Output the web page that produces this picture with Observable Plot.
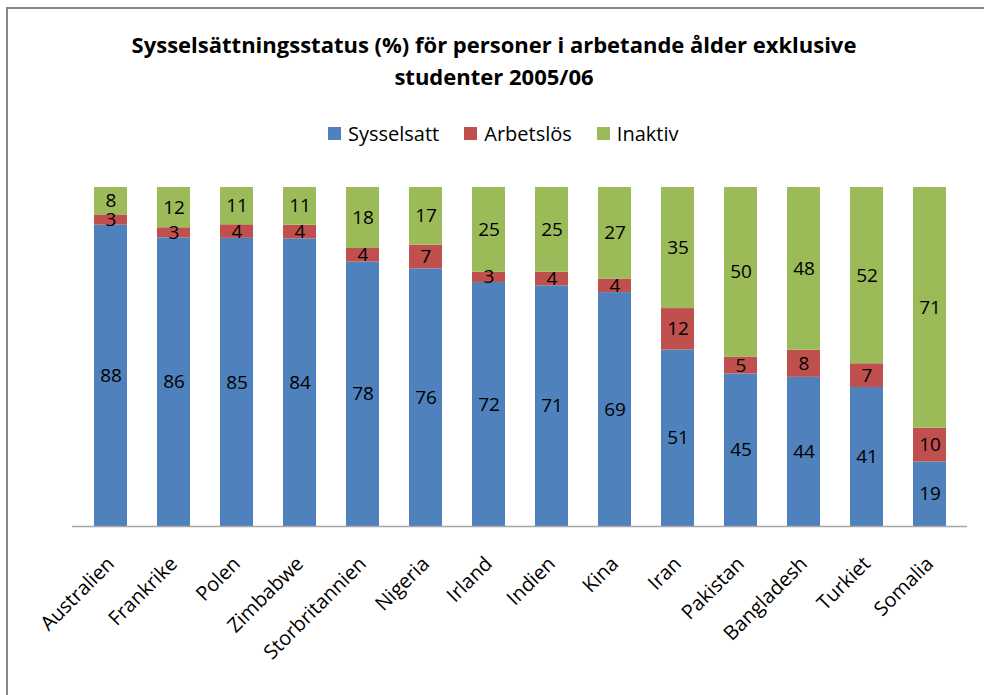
<!DOCTYPE html>
<html>
<head>
<meta charset="utf-8">
<script src="https://cdn.jsdelivr.net/npm/d3@7"></script>
<script src="https://cdn.jsdelivr.net/npm/@observablehq/plot@0.6"></script>
<style>
  html, body { margin: 0; padding: 0; background: #fff; }
  body { width: 984px; height: 695px; position: relative; overflow: hidden; font-family: "Open Sans", Lato, sans-serif; }
  #frame { position: absolute; left: 6px; top: 7px; width: 990px; height: 700px; border-left: 2px solid #878787; border-top: 2px solid #878787; }
  #title { position: absolute; left: 2px; width: 984px; top: 28px; text-align: center; font-weight: bold; font-size: 22px; line-height: 32px; color: #000; }
  #legend { position: absolute; left: 328px; top: 120px; font-size: 20px; color: #000; white-space: nowrap; }
  #legend span.item { display: inline-block; margin-right: 25px; }
  #legend span.sw { display: inline-block; width: 13px; height: 13px; margin-right: 7px; vertical-align: 1px; }
  #chart { position: absolute; left: 0; top: 170px; }
</style>
</head>
<body>
<div id="frame"></div>
<div id="title">Sysselsättningsstatus (%) för personer i arbetande ålder exklusive<br>studenter 2005/06</div>
<div id="legend"></div>
<div id="chart"></div>
<script>
const countries = ["Australien","Frankrike","Polen","Zimbabwe","Storbritannien","Nigeria","Irland","Indien","Kina","Iran","Pakistan","Bangladesh","Turkiet","Somalia"];
const series = ["Sysselsatt","Arbetslös","Inaktiv"];
const colors = ["#4F81BD","#C0504D","#9BBB59"];
const sysselsatt = [88,86,85,84,78,76,72,71,69,51,45,44,41,19];
const arbetslos  = [3,3,4,4,4,7,3,4,4,12,5,8,7,10];
const inaktiv    = [8,12,11,11,18,17,25,25,27,35,50,48,52,71];

const seriesValues = [sysselsatt, arbetslos, inaktiv];
const data = [];
series.forEach((s, si) => countries.forEach((c, ci) => data.push({country: c, series: s, value: seriesValues[si][ci]})));

// legend
const legend = document.getElementById("legend");
series.forEach((s, i) => {
  const it = document.createElement("span");
  it.className = "item";
  it.innerHTML = `<span class="sw" style="background:${colors[i]}"></span>${s}`;
  legend.appendChild(it);
});

const stackOpts = {offset: "normalize", x: "country", y: "value", z: "series"};

const chart = Plot.plot({
  width: 984,
  height: 525,
  marginLeft: 72,
  marginRight: 17,
  marginTop: 17,
  marginBottom: 169,
  style: {fontFamily: "'Open Sans', Lato, sans-serif", background: "transparent"},
  x: {domain: countries, paddingInner: 0.48, paddingOuter: 0.24, axis: null},
  y: {domain: [0, 1], axis: null},
  color: {domain: series, range: colors},
  marks: [
    Plot.barY(data, Plot.stackY({...stackOpts, fill: "series"})),
    Plot.text(data, Plot.stackY({...stackOpts, text: "value", fill: "#000", fontSize: 19})),
    Plot.ruleY([0], {stroke: "#a6a6a6", strokeWidth: 1.5}),
    Plot.axisX({tickRotate: -45, tickSize: 0, tickPadding: 34, fontSize: 20, fill: "#000", label: null})
  ]
});
document.getElementById("chart").appendChild(chart);
</script>
</body>
</html>
